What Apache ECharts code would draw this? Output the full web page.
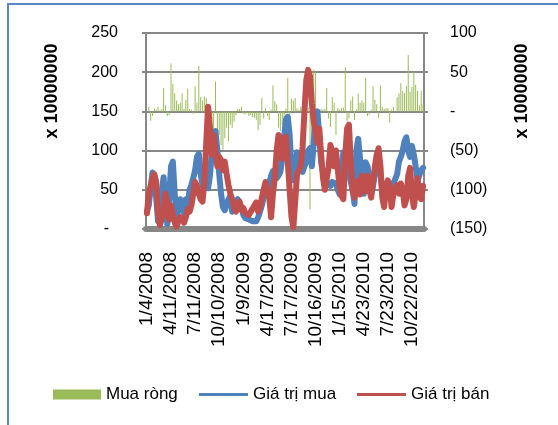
<!DOCTYPE html>
<html>
<head>
<meta charset="utf-8">
<script src="https://cdn.jsdelivr.net/npm/echarts@6/dist/echarts.min.js"></script>
<style>
  html, body { margin: 0; padding: 0; background: #ffffff; }
  #chart { width: 558px; height: 425px; }
</style>
</head>
<body>
<div id="chart"></div>
<script>
// Weekly trading sessions (Fridays), Tet holiday weeks are not traded
const firstWeek = [2008, 1, 4];
const weekCount = 150;
const holidayWeeks = ['2/8/2008', '1/30/2009', '2/19/2010'];

// Values in units of 10,000,000
const buyValue = [
  22, 30, 52, 72, 74, 40, 10, 15, 48, 66,
  35, 6, 40, 80, 86, 45, 12, 28, 38, 40,
  20, 38, 30, 50, 56, 65, 75, 92, 96, 70,
  55, 58, 62, 52, 68, 98, 120, 125, 100, 70,
  45, 28, 24, 26, 38, 42, 22, 22, 34, 38,
  40, 28, 18, 14, 15, 12, 10, 10, 8, 10,
  15, 22, 30, 40, 42, 45, 58, 68, 74, 75,
  65, 68, 73, 90, 116, 140, 143, 120, 78, 62,
  70, 98, 86, 78, 73, 80, 86, 100, 103, 80,
  110, 145, 150, 118, 85, 72, 65, 60, 62, 55,
  60, 62, 58, 50, 44, 70, 98, 95, 80, 72,
  60, 50, 32, 100, 115, 90, 60, 45, 85, 80,
  65, 45, 55, 70, 88, 82, 70, 50, 55, 58,
  60, 58, 55, 58, 60, 70, 86, 92, 100, 112,
  117, 100, 92, 106, 95, 80, 62, 60, 75, 78
];

const sellValue = [
  20, 45, 55, 65, 70, 60, 20, 5, 3, 20,
  45, 35, 12, 30, 28, 8, 3, 10, 15, 12,
  8, 15, 25, 22, 30, 45, 60, 55, 45, 38,
  35, 60, 110, 156, 130, 95, 120, 100, 80, 92,
  88, 75, 86, 70, 56, 45, 38, 28, 22, 30,
  35, 24, 27, 20, 18, 18, 20, 26, 30, 34,
  22, 27, 40, 50, 60, 62, 40, 15, 45, 65,
  100, 120, 115, 90, 100, 118, 85, 50, 15, 2,
  35, 70, 75, 80, 105, 150, 190, 203, 195, 160,
  137, 125, 110, 128, 95, 65, 50, 48, 78, 107,
  100, 80, 100, 100, 52, 42, 38, 94, 128, 133,
  85, 48, 40, 52, 62, 44, 68, 55, 48, 68,
  50, 40, 60, 80, 95, 103, 80, 40, 28, 50,
  62, 55, 28, 45, 52, 56, 45, 58, 50, 30,
  38, 68, 78, 45, 28, 45, 65, 42, 38, 55
];

const netBuy = [
  0, 6, -12, -6, 4, 2, 6, 1, 3, 30,
  8, -6, -5, 61, 35, 23, 14, 9, 11, 23,
  3, 15, 29, 3, 2, -3, 32, 11, 58, 18,
  14, 19, 17, -17, 5, -12, -28, 38, -48, -30,
  -43, -49, -34, -21, -38, -17, -21, -13, -5, 3,
  3, 6, -3, -4, -2, -6, -5, -7, -8, -11,
  -24, -17, 17, -9, 4, -6, -11, 2, 33, 13,
  9, -21, -25, -17, -21, 4, 43, -4, 16, 14,
  17, 4, 2, 6, 9, 3, -8, 5, -125, -34,
  53, 50, -4, -8, 3, 2, 3, 30, -9, -20,
  18, 11, -30, 4, 2, 4, 5, 56, -12, -9,
  14, 19, -11, 2, 23, 11, 14, 11, 43, -6,
  -4, 2, 32, 15, 9, -8, 33, 6, 3, 4,
  4, -14, 2, 6, 0, 18, 23, 36, 26, 23,
  32, 72, 25, 31, 51, 34, 26, 8, 26, 10
];

const seriesNames = ['Mua ròng', 'Giá trị mua', 'Giá trị bán'];
const unitLabel = 'x 10000000';

// Build the list of session dates (M/D/YYYY)
function buildWeeks() {
  const out = [];
  let t = Date.UTC(firstWeek[0], firstWeek[1] - 1, firstWeek[2]);
  while (out.length < weekCount) {
    const d = new Date(t);
    const s = (d.getUTCMonth() + 1) + '/' + d.getUTCDate() + '/' + d.getUTCFullYear();
    if (holidayWeeks.indexOf(s) < 0) out.push(s);
    t += 7 * 86400000;
  }
  return out;
}
const weeks = buildWeeks();

const FONT = "'Liberation Sans', Arial, sans-serif";
const GRID_GRAY = '#878787';

const chart = echarts.init(document.getElementById('chart'), null, { renderer: 'canvas' });

chart.setOption({
  animation: false,
  backgroundColor: '#ffffff',
  textStyle: { fontFamily: FONT, color: '#000' },
  grid: { left: 146, right: 134, top: 33, bottom: 196, containLabel: false },
  xAxis: {
    type: 'category',
    data: weeks,
    boundaryGap: true,
    offset: 3,
    axisLine: { show: true, lineStyle: { color: GRID_GRAY, width: 6 } },
    axisTick: { show: false },
    axisLabel: {
      interval: 12,
      rotate: 90,
      margin: 20,
      fontSize: 19,
      fontFamily: FONT,
      color: '#000'
    },
    splitLine: { show: false }
  },
  yAxis: [
    {
      type: 'value',
      position: 'left',
      min: 0, max: 250, interval: 50,
      axisLine: { show: true, lineStyle: { color: GRID_GRAY, width: 2 } },
      axisTick: { show: true, length: 4, lineStyle: { color: GRID_GRAY, width: 2 } },
      axisLabel: {
        margin: 28,
        fontSize: 16,
        fontFamily: FONT,
        color: '#000',
        formatter: v => (v === 0 ? '-  ' : String(v))
      },
      splitLine: { show: true, lineStyle: { color: GRID_GRAY, width: 2 } }
    },
    {
      type: 'value',
      position: 'right',
      min: -150, max: 100, interval: 50,
      axisLine: { show: true, lineStyle: { color: GRID_GRAY, width: 2 } },
      axisTick: { show: true, length: 4, lineStyle: { color: GRID_GRAY, width: 2 } },
      axisLabel: {
        margin: 26,
        fontSize: 16,
        fontFamily: FONT,
        color: '#000',
        formatter: v => (v === 0 ? '-' : v < 0 ? '(' + (-v) + ')' : String(v))
      },
      splitLine: { show: false }
    }
  ],
  legend: [
    {
      data: [seriesNames[0]], left: 48, top: 381, icon: 'rect',
      itemWidth: 48, itemHeight: 10, selectedMode: false,
      textStyle: { fontSize: 17, fontFamily: FONT, color: '#000' }
    },
    {
      data: [seriesNames[1]], left: 194, top: 381, icon: 'rect',
      itemWidth: 49, itemHeight: 3, selectedMode: false,
      textStyle: { fontSize: 17, fontFamily: FONT, color: '#000' }
    },
    {
      data: [seriesNames[2]], left: 352, top: 381, icon: 'rect',
      itemWidth: 49, itemHeight: 3, selectedMode: false,
      textStyle: { fontSize: 17, fontFamily: FONT, color: '#000' }
    }
  ],
  graphic: [
    {
      type: 'rect',
      silent: true,
      shape: { x: 8, y: 4, width: 620, height: 520 },
      style: { fill: 'none', stroke: '#5A88C6', lineWidth: 2 }
    },
    {
      type: 'text',
      x: 52, y: 91, rotation: Math.PI / 2,
      style: {
        text: unitLabel, fontSize: 18, fontWeight: 'bold', fontFamily: FONT,
        fill: '#000', align: 'center', verticalAlign: 'middle'
      }
    },
    {
      type: 'text',
      x: 522, y: 91, rotation: Math.PI / 2,
      style: {
        text: unitLabel, fontSize: 18, fontWeight: 'bold', fontFamily: FONT,
        fill: '#000', align: 'center', verticalAlign: 'middle'
      }
    }
  ],
  series: [
    {
      name: seriesNames[0],
      type: 'bar',
      yAxisIndex: 1,
      data: netBuy,
      barWidth: '50%',
      itemStyle: { color: '#9BBB59' }
    },
    {
      name: seriesNames[1],
      type: 'line',
      yAxisIndex: 0,
      data: buyValue,
      symbol: 'none',
      itemStyle: { color: '#4F81BD' },
      lineStyle: { color: '#4F81BD', width: 6, join: 'round', cap: 'round' }
    },
    {
      name: seriesNames[2],
      type: 'line',
      yAxisIndex: 0,
      data: sellValue,
      symbol: 'none',
      itemStyle: { color: '#C0504D' },
      lineStyle: { color: '#C0504D', width: 6, join: 'round', cap: 'round' }
    }
  ]
});
</script>
</body>
</html>
